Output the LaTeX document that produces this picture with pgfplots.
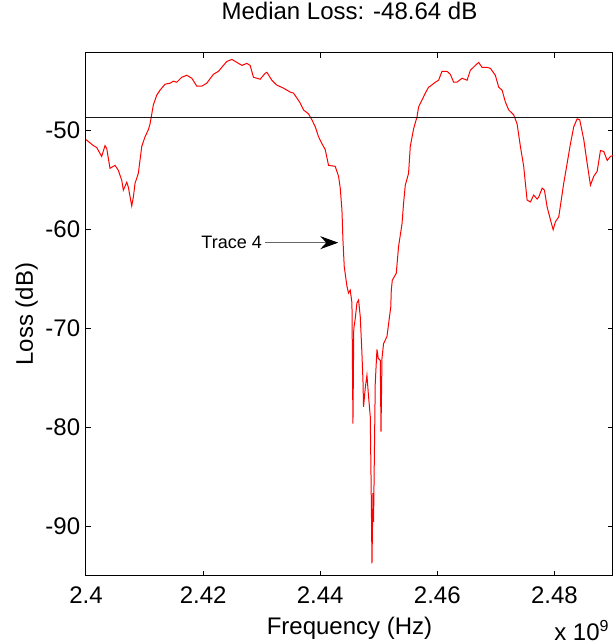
\documentclass[border=0pt]{standalone}
\usepackage{pgfplots}
\pgfplotsset{compat=1.18}
\usepackage{fontspec}
\setmainfont{Liberation Sans}
\usetikzlibrary{arrows.meta}
\pgfplotstableread{
f db
2.40000 -50.9
2.40125 -51.5
2.40183 -51.7
2.40268 -52.6
2.40325 -51.5
2.40354 -51.8
2.40410 -53.8
2.40496 -53.5
2.40552 -54.0
2.40610 -55.0
2.40638 -56.0
2.40696 -55.2
2.40723 -55.7
2.40781 -57.6
2.40809 -56.7
2.40838 -55.3
2.40894 -54.3
2.40952 -51.6
2.41009 -50.6
2.41065 -49.9
2.41094 -49.3
2.41150 -47.4
2.41209 -46.4
2.41265 -45.9
2.41350 -45.3
2.41436 -45.2
2.41492 -45.0
2.41550 -45.1
2.41636 -44.6
2.41721 -44.4
2.41807 -44.7
2.41892 -45.5
2.41978 -45.5
2.42063 -45.2
2.42176 -44.3
2.42262 -44.0
2.42405 -43.0
2.42491 -42.8
2.42576 -43.1
2.42662 -43.4
2.42747 -43.2
2.42803 -43.4
2.42860 -44.6
2.42974 -44.8
2.43060 -44.2
2.43089 -44.1
2.43174 -44.9
2.43260 -45.4
2.43373 -45.7
2.43487 -46.1
2.43544 -46.2
2.43602 -46.7
2.43658 -47.2
2.43715 -47.9
2.43800 -48.3
2.43858 -48.9
2.43915 -49.6
2.43971 -50.6
2.44029 -51.3
2.44085 -51.9
2.44142 -53.5
2.44256 -53.6
2.44313 -54.6
2.44342 -55.8
2.44371 -58.0
2.44388 -61.0
2.44410 -63.7
2.44456 -65.7
2.44484 -66.4
2.44513 -66.1
2.44542 -67.4
2.44559 -79.6
2.44573 -70.0
2.44598 -69.0
2.44627 -67.4
2.44655 -67.1
2.44684 -68.8
2.44709 -72.0
2.44730 -75.2
2.44740 -77.9
2.44769 -76.0
2.44798 -74.7
2.44821 -76.5
2.44855 -78.9
2.44872 -87.0
2.44884 -93.7
2.44901 -86.6
2.44911 -89.5
2.44940 -75.5
2.44969 -72.1
2.44991 -73.0
2.45026 -73.2
2.45038 -80.4
2.45055 -73.0
2.45082 -71.5
2.45140 -70.8
2.45168 -69.5
2.45205 -67.8
2.45214 -66.1
2.45231 -65.1
2.45299 -64.4
2.45338 -61.7
2.45397 -59.4
2.45424 -57.3
2.45453 -55.5
2.45509 -54.3
2.45538 -51.6
2.45595 -49.8
2.45653 -48.6
2.45680 -47.6
2.45739 -46.9
2.45795 -46.2
2.45851 -45.6
2.45880 -45.5
2.45966 -45.1
2.46022 -44.9
2.46080 -44.0
2.46166 -44.0
2.46222 -44.3
2.46279 -45.1
2.46337 -45.1
2.46422 -44.7
2.46508 -44.9
2.46564 -43.9
2.46650 -43.4
2.46706 -43.1
2.46764 -43.6
2.46850 -43.6
2.46906 -43.7
2.46991 -44.4
2.47048 -45.6
2.47106 -45.9
2.47162 -47.1
2.47219 -47.9
2.47304 -48.4
2.47362 -49.3
2.47419 -51.6
2.47475 -53.6
2.47533 -57.0
2.47590 -57.2
2.47646 -56.5
2.47704 -56.9
2.47732 -56.7
2.47790 -55.8
2.47829 -56.0
2.47875 -57.7
2.47932 -59.0
2.47978 -60.0
2.48017 -59.2
2.48074 -58.7
2.48159 -55.3
2.48217 -53.3
2.48274 -51.3
2.48330 -49.6
2.48388 -48.8
2.48432 -48.9
2.48501 -50.9
2.48559 -53.3
2.48615 -55.5
2.48672 -54.6
2.48730 -54.1
2.48786 -52.0
2.48843 -52.1
2.48901 -53.0
2.48957 -52.6
2.49000 -52.5
}\tracefour
\begin{document}
\begin{tikzpicture}
\begin{axis}[
  name=ax,
  scale only axis, width=263.5pt, height=261.4pt,
  xmin=2.4, xmax=2.49, ymin=-94.93, ymax=-42.12,
  xtick={2.4,2.42,2.44,2.46,2.48},
  xticklabels={2.4,2.42,2.44,2.46,2.48},
  ytick={-90,-80,-70,-60,-50},
  yticklabels={-90,-80,-70,-60,-50},
  scaled x ticks=false,
  tick align=inside,
  major tick length=2.5pt,
  axis line style={line width=0.5pt, black},
  every tick/.style={black, line width=0.5pt},
  font=\fontsize{12}{14}\selectfont,
  tick label style={font=\fontsize{12}{14}\selectfont},
  xticklabel style={anchor=base, yshift=-13.75pt},
  yticklabel style={anchor=east, xshift=0.6pt},
  title={Median Loss: -48.64 dB},
  title style={at={(axis description cs:0.5,1.0415)}, anchor=base},
  xlabel={Frequency (Hz)},
  xlabel style={at={(axis description cs:0.5,-0.1128)}, anchor=base},
  ylabel={Loss (dB)},
  ylabel style={at={(axis description cs:-0.1006,0.5)}, anchor=base},
]
\addplot[red, line width=0.5pt] table[x=f, y=db] {\tracefour};
\addplot[black!90, line width=0.5pt] coordinates {(2.4,-48.64) (2.49,-48.64)};
\draw[black!60, line width=0.6pt, -{Stealth[length=9pt,width=6.5pt,inset=3pt,black]}] (axis cs:2.43060,-61.31) -- (axis cs:2.44308,-61.31);
\node[anchor=east, inner sep=0pt, font=\fontsize{9}{11}\selectfont] at (axis cs:2.43009,-61.31) {Trace 4};
\end{axis}
\node[anchor=base east, inner sep=0pt, font=\fontsize{12}{14}\selectfont] at ([xshift=-1.5pt,yshift=-32.4pt]ax.south east) {x 10\textsuperscript{9}};
\pgfresetboundingbox
\path[use as bounding box] ([xshift=-43pt,yshift=-33.75pt]ax.south west) rectangle ([yshift=26.35pt]ax.north east);
\end{tikzpicture}
\end{document}
